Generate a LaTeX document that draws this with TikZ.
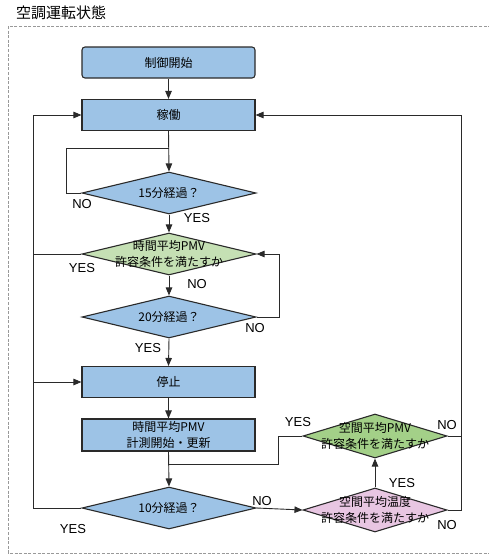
\documentclass[tikz,border=0pt]{standalone}
\usepackage{fontspec}
\setmainfont{Liberation Sans}
\newfontfamily\jp{Noto Sans CJK JP}
\usetikzlibrary{arrows.meta,shapes.geometric,calc}
\definecolor{bluefill}{HTML}{9DC3E6}
\definecolor{lgreen}{HTML}{C5E0B4}
\definecolor{dgreen}{HTML}{A3D088}
\definecolor{pinkfill}{HTML}{E8C6E2}
\definecolor{linec}{HTML}{2A2A2A}
\begin{document}
\begin{tikzpicture}[x=1pt,y=-1pt,
  box/.style={draw=linec,line width=1.1pt,fill=bluefill,minimum width=173pt,minimum height=31pt,inner sep=0pt,font=\jp\fontsize{12}{16}\selectfont,align=center},
  dia/.style={draw=linec,line width=1.1pt,shape=diamond,aspect=4,inner sep=0pt,minimum width=174pt,minimum height=42pt},
  dtext/.style={font=\jp\fontsize{12}{16}\selectfont,align=center,inner sep=0pt},
  yn/.style={font=\fontsize{13}{13}\selectfont,inner sep=0pt},
  arr/.style={draw=linec,line width=0.9pt,-{Triangle[length=8pt,width=6.5pt]}},
  ln/.style={draw=linec,line width=0.9pt}]
\useasboundingbox (0,0) rectangle (489,554);
% frame and title
\draw[draw=gray!80,line width=1pt,dash pattern=on 3pt off 1.6pt] (8,26) rectangle (500,553);
\node[anchor=west,font=\jp\fontsize{15}{15}\selectfont,inner sep=0pt] (title) at (16,12.5) {空調運転状態};
% boxes
\node[box,rounded corners=3pt] (start) at (168.5,62.5) {制御開始};
\node[box] (run) at (168.5,115) {稼働};
\node[box] (stop) at (168.5,382) {停止};
\node[box,minimum height=32pt] (meas) at (168.5,435) {時間平均PMV\\計測開始・更新};
% diamonds
\node[dia,fill=bluefill] (d15) at (169,193) {};
\node[dtext] (d15t) at (d15) {15分経過？};
\node[dia,fill=lgreen] (dt) at (169,254) {};
\node[dtext] (dtt) at (dt) {時間平均PMV\\許容条件を満たすか};
\node[dia,fill=bluefill] (d20) at (169,317) {};
\node[dtext] (d20t) at (d20) {20分経過？};
\node[dia,fill=bluefill] (d10) at (169,508) {};
\node[dtext] (d10t) at (d10) {10分経過？};
\node[dia,fill=dgreen,minimum width=144pt,minimum height=44pt] (dsp) at (375,436) {};
\node[dtext] (dspt) at (dsp) {空間平均PMV\\許容条件を満たすか};
\node[dia,fill=pinkfill,minimum width=144pt,minimum height=44pt] (dst) at (375,510) {};
\node[dtext] (dstt) at (dst) {空間平均温度\\許容条件を満たすか};
% helper coordinates
\coordinate (j1) at (168.5,148);
\coordinate (j2) at (168.5,464);
\coordinate (xl) at (33,0);
\coordinate (xr) at (461,0);
% connectors
\draw[arr] (start.south) -- (run.north);
\draw[arr] (run.south) -- (d15.north);
\draw[ln] (d15.west) -- ++(-15,0) |- (j1);
\draw[arr] (d15.south) -- (dt.north);
\draw[arr] (dt.south) -- (d20.north);
\draw[arr] (d20.east) -- ++(23,0) |- (dt.east);
\draw[arr] (d20.south) -- (stop.north);
\draw[arr] (stop.south) -- (meas.north);
\draw[arr] (meas.south) -- (d10.north);
\draw[ln] (dt.west) -- (xl |- dt.west);
\draw[arr] (d10.west) -- (xl |- d10.west) |- (run.west);
\draw[arr] (xl |- stop.west) -- (stop.west);
\draw[ln] (dsp.west) -- ++(-24,0) |- (j2);
\draw[arr] (d10.east) -- (dst.west);
\draw[arr] (dst.north) -- (dsp.south);
\draw[arr] (dsp.east) -- (xr |- dsp.east) |- (run.east);
\draw[ln] (dst.east) -- (xr |- dst.east) -- (xr |- dsp.east);
% labels
\node[yn] (n1) at (82,204) {NO};
\node[yn] (y1) at (197,218) {YES};
\node[yn] (y2) at (82,268) {YES};
\node[yn] (n2) at (197,284) {NO};
\node[yn] (n3) at (255,328) {NO};
\node[yn] (y3) at (148,348) {YES};
\node[yn] (y4) at (298,422) {YES};
\node[yn] (n4) at (447,425) {NO};
\node[yn] (y5) at (402,483) {YES};
\node[yn] (n5) at (262,501) {NO};
\node[yn] (n6) at (447,525) {NO};
\node[yn] (y6) at (73,529) {YES};
\end{tikzpicture}
\end{document}
